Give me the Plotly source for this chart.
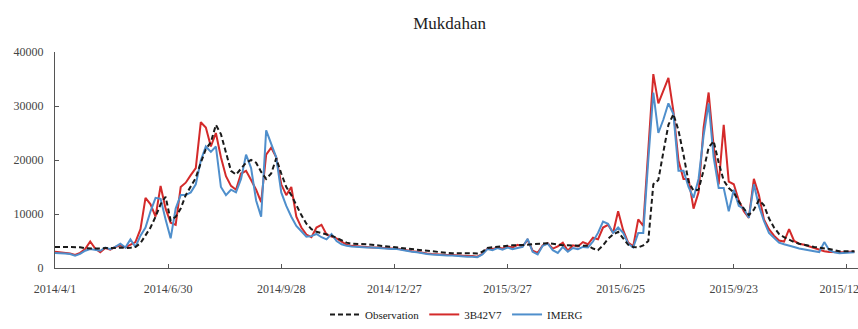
import pandas as pd
import plotly.graph_objects as go

# Daily discharge at Mukdahan, sampled every 4 days from 2014-04-01
start_date = "2014-04-01"
step = "4D"

observation = [
    3900, 3900, 3900, 3900, 3900, 3850, 3650, 3600, 3650, 3600,
    3700, 3650, 3700, 3800, 3700, 3750, 3900, 4600, 6000, 7500,
    9500, 11800, 13200, 8800, 9500, 11000, 13500, 15200, 16700, 19500,
    22000, 23300, 26500, 24800, 21500, 18000, 17300, 18300, 19500, 20000,
    19500, 17800, 16500, 17500, 20300, 17500, 15000, 13500, 11500, 9800,
    8200, 7200, 6700, 6500, 6200, 6000, 5600, 5200, 4700, 4500,
    4500, 4500, 4400, 4300, 4200, 4100, 4000, 3900, 3800, 3700,
    3600, 3500, 3400, 3300, 3100, 3000, 2950, 2900, 2800, 2750,
    2750, 2750, 2700, 2700, 2700, 3000, 3700, 3850, 3900, 4000,
    4100, 4200, 4200, 4300, 4300, 4400, 4500, 4500, 4600, 4500,
    4300, 4200, 4200, 4200, 4200, 4100, 4100, 3600, 3300, 4200,
    5400, 6200, 6700, 5500, 4300, 3900, 3800, 4200, 5000, 15500,
    16300, 21500, 26500, 28500, 25500, 21000, 16000, 14300, 14500, 18100,
    22300, 23500, 19500, 16200, 14800, 14000, 12300, 11000, 9800, 10800,
    12600, 11600, 9200, 7500, 6300, 5700, 5200, 4800, 4500, 4250,
    4100, 3900, 3800, 3700, 3500, 3300, 3100, 3100, 3100, 3100,
]

b42v7 = [
    3000, 2900, 2800, 2700, 2400, 2800, 3500, 4900, 3600, 2900,
    3700, 3400, 3900, 4200, 3800, 4300, 4800, 7200, 13000, 11800,
    9500, 15200, 11000, 8400, 8000, 15000, 15800, 17200, 18500, 27000,
    26000, 22500, 25000, 20500, 17000, 15200, 14500, 17500, 18000, 16300,
    14500, 12200, 21000, 22300, 20500, 15500, 13500, 15000, 9500, 7500,
    6200, 5700, 7500, 8000, 6200, 5800, 5500, 4900, 4300, 4100,
    4000, 3900, 3900, 3800, 3800, 3700, 3700, 3600, 3600, 3400,
    3300, 3100, 3000, 2800, 2700, 2600, 2500, 2500, 2400, 2400,
    2300, 2300, 2200, 2200, 2100, 2600, 3600, 3500, 3800, 3600,
    4000, 3800, 4300, 4000, 5200, 3200, 2800, 4200, 4600, 3600,
    4000, 4700, 3200, 4200, 4000, 4800, 4400, 5600, 5300, 7500,
    8000, 6500, 10500, 7000, 4700, 4000, 9000, 7800, 22000, 35900,
    30500, 33000, 35200, 29000, 19900, 16500, 16500, 11000, 14000, 26000,
    32500, 22500, 15500, 26500, 16000, 15500, 12500, 10500, 9300, 16500,
    13500, 9000, 7200, 6000, 5100, 4900, 7200, 5000, 4500, 4300,
    4000, 3700, 3300, 3100, 2950, 2900, 2850, 2900, 3000, 3000,
]

imerg = [
    2800, 2800, 2700, 2600, 2300, 2600, 3200, 3500, 3300, 3200,
    3800, 3500, 3900, 4500, 3800, 5300, 3900, 6000, 7500, 10500,
    13000, 12800, 9000, 5500, 11000, 13500, 13500, 14000, 15500, 19900,
    22500, 21500, 22500, 15000, 13500, 14500, 14000, 16500, 21000, 18500,
    12500, 9500, 25500, 23000, 20500, 14000, 11500, 9500, 7800, 6800,
    5800, 5900, 6300, 5700, 5300, 6300, 5000, 4400, 4100, 4000,
    3900, 3900, 3800, 3800, 3700, 3700, 3600, 3500, 3500, 3300,
    3200, 3000, 2900, 2700, 2600, 2500, 2400, 2400, 2300, 2300,
    2200, 2200, 2100, 2100, 2000, 2500, 3500, 3300, 3700, 3400,
    3800, 3500, 3700, 3900, 5400, 3000, 2500, 4100, 4500, 3300,
    2800, 3900, 3000, 3700, 3500, 3900, 3800, 4900, 6500, 8600,
    8200, 6500, 7500, 6500, 4500, 3800, 6500, 6500, 20000, 32500,
    25000, 27500, 30500, 28500, 18000, 18000, 15000, 13000, 16500, 24500,
    30500, 20500, 14800, 14800, 10500, 14500, 11500, 11000, 9300, 15500,
    11500, 8700, 6500, 5500, 4700, 4400, 4200, 3900, 3600, 3400,
    3300, 3100, 2950, 4800, 3300, 2900, 2750, 2800, 2900, 2900,
]

tick_dates = ["2014-04-01", "2014-06-30", "2014-09-28", "2014-12-27",
              "2015-03-27", "2015-06-25", "2015-09-23", "2015-12-22"]
tick_labels = ["2014/4/1", "2014/6/30", "2014/9/28", "2014/12/27",
               "2015/3/27", "2015/6/25", "2015/9/23", "2015/12/22"]
y_ticks = [0, 10000, 20000, 30000, 40000]
y_labels = ["0", "10000", "20000", "30000", "40000"]

dates = pd.date_range(start_date, periods=len(observation), freq=step)

SERIF = "Times New Roman, Liberation Serif, serif"

fig = go.Figure()
fig.add_trace(go.Scatter(
    x=dates, y=b42v7, mode="lines", name="3B42V7", legendrank=2,
    line=dict(color="#d42a2a", width=2),
))
fig.add_trace(go.Scatter(
    x=dates, y=imerg, mode="lines", name="IMERG", legendrank=3,
    line=dict(color="#4f8fcc", width=2),
))
fig.add_trace(go.Scatter(
    x=dates, y=observation, mode="lines", name="Observation", legendrank=1,
    line=dict(color="#1a1a1a", width=2, dash="5px,3px"),
))

fig.update_layout(
    width=858, height=329,
    margin=dict(l=55, r=0, t=52, b=56),
    paper_bgcolor="white", plot_bgcolor="white",
    font=dict(family=SERIF, color="#333333"),
    title=dict(text="Mukdahan", x=0.524, xanchor="center", xref="container",
               y=0.93, yanchor="middle", yref="container",
               font=dict(family=SERIF, size=17, color="#222222")),
    legend=dict(orientation="h", x=0.5, xanchor="center", y=-0.215,
                yanchor="middle", font=dict(family=SERIF, size=11, color="#222222"),
                itemwidth=30, bgcolor="rgba(0,0,0,0)"),
    showlegend=True,
)

fig.update_xaxes(
    type="date", range=["2014-04-01", "2015-12-30 20:00"],
    tickmode="array", tickvals=tick_dates, ticktext=tick_labels,
    ticks="inside", ticklen=4, tickcolor="#555555",
    showline=True, linecolor="#555555", linewidth=1,
    showgrid=False, zeroline=False, automargin=False,
    ticklabeloverflow="allow", ticklabelstandoff=10,
    tickfont=dict(family=SERIF, size=12, color="#444444"),
)
fig.update_yaxes(
    range=[0, 40000], tickmode="array", tickvals=y_ticks, ticktext=y_labels,
    ticks="inside", ticklen=4, tickcolor="#555555",
    showline=True, linecolor="#555555", linewidth=1,
    showgrid=False, zeroline=False, automargin=False,
    tickfont=dict(family=SERIF, size=12, color="#444444"),
    ticklabelstandoff=8,
)

fig.write_html("out.html")
